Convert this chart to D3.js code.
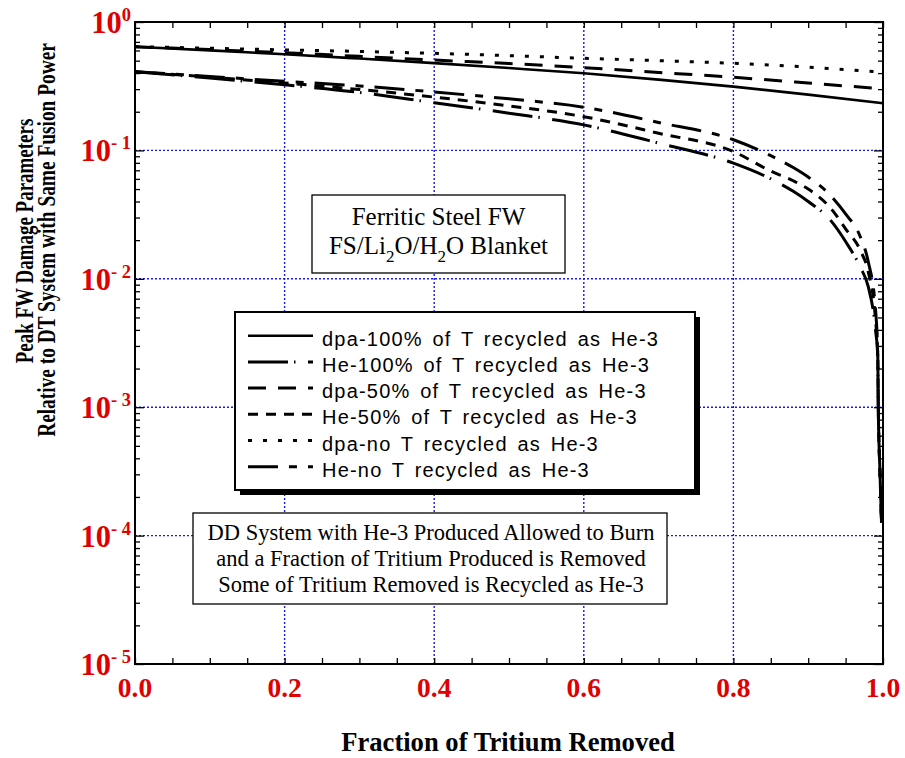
<!DOCTYPE html>
<html><head><meta charset="utf-8">
<script src="https://cdn.jsdelivr.net/npm/d3@7"></script>
<style>
body{margin:0;background:#fff;}
svg{display:block;}
</style>
</head><body>
<svg id="chart" width="905" height="758"></svg>
<script>
// ---- data: peak FW damage relative to a DT system of equal fusion power ----
// dpa curves, sampled against the fraction of tritium removed
const dpaX   = [0, 0.1, 0.2, 0.3, 0.4, 0.5, 0.6, 0.7, 0.8, 0.9, 1.0];
const dpa100 = [0.642, 0.601, 0.561, 0.519, 0.478, 0.438, 0.399, 0.356, 0.314, 0.272, 0.233];
const dpa50  = [0.642, 0.610, 0.577, 0.540, 0.505, 0.475, 0.441, 0.405, 0.371, 0.335, 0.301];
const dpaNo  = [0.642, 0.625, 0.606, 0.590, 0.570, 0.547, 0.522, 0.500, 0.477, 0.445, 0.406];

// helium production curves (drop to ~1e-4 as all tritium is removed)
const heX   = [0, 0.1, 0.2, 0.3, 0.4, 0.5, 0.6, 0.7, 0.8, 0.85, 0.88, 0.9, 0.93, 0.95, 0.97, 0.98, 0.99, 0.993, 0.9937, 0.996, 0.998];
const he100 = [0.41, 0.366, 0.324, 0.283, 0.235, 0.195, 0.158, 0.114, 0.0795, 0.060, 0.048, 0.040, 0.0285, 0.0195, 0.0122, 0.0088, 0.004, 0.0025, 0.001, 0.00031, 0.000126];
const he50  = [0.41, 0.372, 0.335, 0.298, 0.260, 0.222, 0.183, 0.136, 0.098, 0.069, 0.058, 0.050, 0.0355, 0.0245, 0.0165, 0.0115, 0.0048, 0.0025, 0.001, 0.00031, 0.000126];
const heNo  = [0.41, 0.377, 0.345, 0.318, 0.285, 0.252, 0.217, 0.165, 0.121, 0.091, 0.0735, 0.062, 0.0445, 0.032, 0.021, 0.0138, 0.0058, 0.0025, 0.001, 0.00031, 0.000126];

const seriesNames = [
  "dpa-100% of T recycled as He-3",
  "He-100% of T recycled as He-3",
  "dpa-50% of T recycled as He-3",
  "He-50% of T recycled as He-3",
  "dpa-no T recycled as He-3",
  "He-no T recycled as He-3"
];
const xTickLabels = ["0.0", "0.2", "0.4", "0.6", "0.8", "1.0"];
const yTickExps = [0, -1, -2, -3, -4, -5];

const boxTop = ["Ferritic Steel FW", "FS/Li|2|O/H|2|O Blanket"];
const boxBottom = [
  "DD System with He-3 Produced Allowed to Burn",
  "and a Fraction of Tritium Produced is Removed",
  "Some of Tritium Removed is Recycled as He-3"
];
const yTitle = ["Peak FW Damage Parameters", "Relative to DT System with Same Fusion Power"];
const xTitle = "Fraction of Tritium Removed";

// ---- layout ----
const L = 135, R = 883, T = 22, B = 664;
const SERIF = "'Liberation Serif','Times New Roman',Times,serif";
const SANS = "'Liberation Sans',Arial,Helvetica,sans-serif";
const RED = "#e00000";
const GRID = "#1a1ae6";

const svg = d3.select("#chart");
const x = d3.scaleLinear().domain([0, 1]).range([L, R]);
const y = d3.scaleLog().domain([1e-5, 1]).range([B, T]);

// line styles per series (same order as the names)
const styles = [
  {dash: null, w: 2.6},
  {dash: "40,6,1.5,12.5", w: 3},
  {dash: "18,12", w: 3},
  {dash: "10,8", w: 3},
  {dash: "4,11", w: 3},
  {dash: "30,11,8,11", w: 3}
];
const series = [
  {xs: dpaX, ys: dpa100},
  {xs: heX, ys: he100},
  {xs: dpaX, ys: dpa50},
  {xs: heX, ys: he50},
  {xs: dpaX, ys: dpaNo},
  {xs: heX, ys: heNo}
];

// ---- grid ----
const grid = svg.append("g");
[0.2, 0.4, 0.6, 0.8].forEach(v => grid.append("line")
  .attr("x1", x(v)).attr("x2", x(v)).attr("y1", T).attr("y2", B)
  .attr("stroke", GRID).attr("stroke-width", 1.4).attr("stroke-dasharray", "2,2"));
[1e-1, 1e-2, 1e-3, 1e-4].forEach(v => grid.append("line")
  .attr("x1", L).attr("x2", R).attr("y1", y(v)).attr("y2", y(v))
  .attr("stroke", GRID).attr("stroke-width", 1.4).attr("stroke-dasharray", "2,2"));

// ---- curves ----
const line = d3.line().x(d => x(d[0])).y(d => y(d[1])).curve(d3.curveMonotoneX);
const plot = svg.append("g");
series.forEach((s, i) => {
  plot.append("path")
    .datum(s.xs.map((v, j) => [v, s.ys[j]]))
    .attr("d", line)
    .attr("fill", "none")
    .attr("stroke", "#000")
    .attr("stroke-width", styles[i].w)
    .attr("stroke-dasharray", styles[i].dash);
});

// ---- axes (ticks point inward) ----
const xTicks = d3.range(0, 21).map(i => i * 0.05);
const yMinor = [];
for (let e = -5; e < 0; e++) for (let k = 1; k <= 9; k++) yMinor.push(k * Math.pow(10, e));
yMinor.push(1);

const axB = svg.append("g").attr("transform", `translate(0,${B})`)
  .call(d3.axisBottom(x).tickValues(xTicks).tickSizeInner(-6).tickSizeOuter(0).tickFormat(""));
const axT = svg.append("g").attr("transform", `translate(0,${T})`)
  .call(d3.axisTop(x).tickValues(xTicks).tickSizeInner(-6).tickSizeOuter(0).tickFormat(""));
const axL = svg.append("g").attr("transform", `translate(${L},0)`)
  .call(d3.axisLeft(y).tickValues(yMinor).tickSizeInner(-5).tickSizeOuter(0).tickFormat(""));
const axR = svg.append("g").attr("transform", `translate(${R},0)`)
  .call(d3.axisRight(y).tickValues(yMinor).tickSizeInner(-5).tickSizeOuter(0).tickFormat(""));
[axB, axT, axL, axR].forEach(g => {
  g.select(".domain").remove();
  g.selectAll(".tick line").attr("stroke", "#000").attr("stroke-width", 1.3);
});
// longer ticks at the decades
[axL, axR].forEach((g, i) => g.selectAll(".tick").filter(d => Math.abs(Math.log10(d) - Math.round(Math.log10(d))) < 1e-9)
  .select("line").attr("x2", i === 0 ? 9 : -9));

svg.append("rect").attr("x", L).attr("y", T).attr("width", R - L).attr("height", B - T)
  .attr("fill", "none").attr("stroke", "#000").attr("stroke-width", 2);

// tick labels
svg.append("g").selectAll("text").data(xTickLabels).join("text")
  .attr("x", d => x(+d)).attr("y", 697)
  .attr("text-anchor", "middle")
  .attr("font-family", SERIF).attr("font-weight", "bold").attr("font-size", 27.5)
  .attr("fill", RED).text(d => d);

const yl = svg.append("g").selectAll("text").data(yTickExps).join("text")
  .attr("x", 131).attr("y", d => y(Math.pow(10, d)) + 11)
  .attr("text-anchor", "end")
  .attr("font-family", SERIF).attr("font-weight", "bold").attr("font-size", 30.5)
  .attr("fill", RED);
yl.append("tspan").text("10");
yl.append("tspan").attr("font-size", 18.5).attr("dy", -12)
  .text(d => d === 0 ? "0" : "- " + (-d));

// axis titles (tall, narrow bold serif)
const yt = svg.append("g").attr("font-family", SERIF).attr("font-weight", "bold").attr("font-size", 26);
yt.append("text").attr("transform", "translate(33,241) rotate(-90) scale(0.73,1)").attr("text-anchor", "middle").text(yTitle[0]);
yt.append("text").attr("transform", "translate(55,240) rotate(-90) scale(0.745,1)").attr("text-anchor", "middle").text(yTitle[1]);
svg.append("text").attr("transform", "translate(508,751) scale(0.95,1)").attr("text-anchor", "middle")
  .attr("font-family", SERIF).attr("font-weight", "bold").attr("font-size", 28).text(xTitle);

// ---- material box ----
svg.append("rect").attr("x", 312).attr("y", 195).attr("width", 253).attr("height", 78)
  .attr("fill", "#fff").attr("stroke", "#000").attr("stroke-width", 1.3);
const tb = svg.append("g").attr("font-family", SERIF).attr("font-size", 25).attr("text-anchor", "middle");
tb.append("text").attr("x", 438.5).attr("y", 225).text(boxTop[0]);
const t2 = tb.append("text").attr("x", 438.5).attr("y", 254);
boxTop[1].split("|").forEach((part, i) => {
  if (i % 2 === 1) t2.append("tspan").attr("font-size", 17).attr("dy", 8).text(part);
  else t2.append("tspan").attr("dy", i === 0 ? 0 : -8).text(part);
});

// ---- legend ----
const LG = {x: 235, y: 312, w: 460, h: 178};
svg.append("rect").attr("x", LG.x + 5).attr("y", LG.y + 5).attr("width", LG.w).attr("height", LG.h).attr("fill", "#000");
svg.append("rect").attr("x", LG.x).attr("y", LG.y).attr("width", LG.w).attr("height", LG.h)
  .attr("fill", "#fff").attr("stroke", "#000").attr("stroke-width", 2);
const rows = svg.append("g").selectAll("g").data(seriesNames).join("g")
  .attr("transform", (d, i) => `translate(0,${345.7 + i * 26.2})`);
rows.append("line").attr("x1", 248).attr("x2", 313).attr("y1", -10).attr("y2", -10)
  .attr("stroke", "#000").attr("stroke-width", (d, i) => styles[i].w)
  .attr("stroke-dasharray", (d, i) => styles[i].dash);
rows.append("text").attr("x", 322).attr("y", 0)
  .attr("font-family", SANS).attr("font-size", 20)
  .attr("letter-spacing", 1.2).attr("word-spacing", 3)
  .text(d => d);

// ---- scenario box ----
svg.append("rect").attr("x", 193).attr("y", 513).attr("width", 474).attr("height", 91)
  .attr("fill", "#fff").attr("stroke", "#000").attr("stroke-width", 1.3);
svg.append("g").attr("font-family", SERIF).attr("font-size", 22.5).attr("text-anchor", "middle")
  .selectAll("text").data(boxBottom).join("text")
  .attr("x", 431).attr("y", (d, i) => 540 + i * 26).text(d => d);
</script>
</body></html>
